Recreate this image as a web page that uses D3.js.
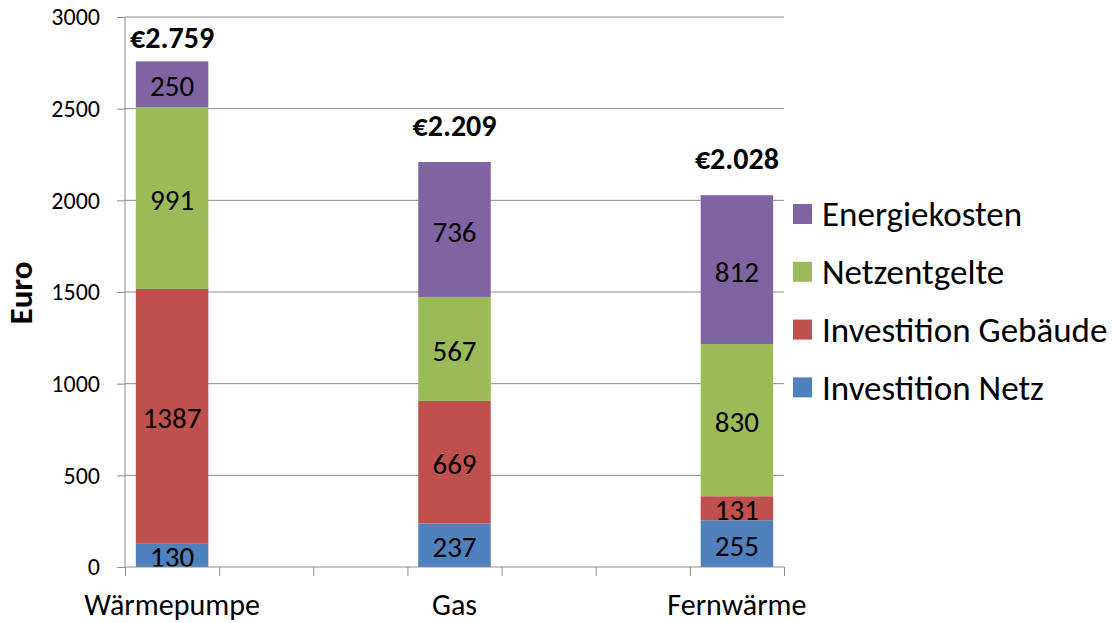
<!DOCTYPE html>
<html>
<head>
<meta charset="utf-8">
<script src="https://cdn.jsdelivr.net/npm/d3@7"></script>
<style>
  body { margin: 0; background: #fff; overflow: hidden; }
  svg { display: block; }
  svg text { font-family: Carlito, Calibri, "Noto Sans", sans-serif; fill: #000; }
</style>
</head>
<body>
<div id="chart"></div>
<script>
// slots on the category axis, blanks are empty slots like in the original
const categories = ["Wärmepumpe", "", "", "Gas", "", "", "Fernwärme"];
const seriesNames = ["Investition Netz", "Investition Gebäude", "Netzentgelte", "Energiekosten"];
const investitionNetz = [130, 237, 255];
const investitionGebaeude = [1387, 669, 131];
const netzentgelte = [991, 567, 830];
const energiekosten = [250, 736, 812];
const totals = [2759, 2209, 2028];
const yTicks = [0, 500, 1000, 1500, 2000, 2500, 3000];
const colors = ["#4F81BD", "#C0504D", "#9BBB59", "#8064A2"];

const w = 1116;
const h = 623;
const plotLeft = 125, plotRight = 784, plotTop = 17, plotBottom = 567;

const svg = d3.select('#chart')
              .append('svg')
              .attr('width', w)
              .attr('height', h);

const filled = categories.map((c, i) => i).filter(i => categories[i] !== "");
const rows = filled.map((slot, k) => ({
  slot: slot,
  "Investition Netz": investitionNetz[k],
  "Investition Gebäude": investitionGebaeude[k],
  "Netzentgelte": netzentgelte[k],
  "Energiekosten": energiekosten[k],
  total: totals[k]
}));

const yScale = d3.scaleLinear().domain([0, 3000]).range([plotBottom, plotTop]);
const xBand = d3.scaleBand().domain(d3.range(categories.length)).range([plotLeft, plotRight]);
const xLin = d3.scaleLinear().domain([0, categories.length]).range([plotLeft, plotRight]);
const barW = xBand.bandwidth() * 0.77;

// gridlines
svg.append('g')
   .selectAll('line')
   .data(yTicks.filter(t => t > 0))
   .enter()
   .append('line')
   .attr('x1', plotLeft).attr('x2', plotRight)
   .attr('y1', d => yScale(d)).attr('y2', d => yScale(d))
   .attr('stroke', '#8c8c8c').attr('stroke-width', 1);

const stack = d3.stack().keys(seriesNames)(rows);

const layers = svg.append('g')
   .selectAll('g')
   .data(stack)
   .enter()
   .append('g')
   .attr('fill', (d, i) => colors[i]);

layers.selectAll('rect')
   .data(d => d)
   .enter()
   .append('rect')
   .attr('x', d => xBand(d.data.slot) + (xBand.bandwidth() - barW) / 2)
   .attr('width', barW)
   .attr('y', d => yScale(d[1]))
   .attr('height', d => yScale(d[0]) - yScale(d[1]));

layers.selectAll('text')
   .data(d => d.map(p => ({p: p, v: p[1] - p[0]})))
   .enter()
   .append('text')
   .attr('x', d => xBand(d.p.data.slot) + xBand.bandwidth() / 2)
   .attr('y', d => (yScale(d.p[0]) + yScale(d.p[1])) / 2 + 2)
   .attr('dy', '0.35em')
   .attr('text-anchor', 'middle')
   .style('font-size', '29px')
   .text(d => d.v);

// totals above bars
svg.append('g')
   .selectAll('text')
   .data(rows)
   .enter()
   .append('text')
   .attr('x', d => xBand(d.slot) + xBand.bandwidth() / 2)
   .attr('y', d => Math.max(yScale(d.total) - 26, 48))
   .attr('text-anchor', 'middle')
   .style('font-size', '30px')
   .style('font-weight', 'bold')
   .text(d => '€' + d3.format(',')(d.total).replace(/,/g, '.'));

// axes
const yAxis = d3.axisLeft(yScale).tickValues(yTicks).tickSize(8).tickPadding(17).tickFormat(d3.format('d'));
const gy = svg.append('g')
   .attr('transform', 'translate(' + plotLeft + ',0)')
   .call(yAxis);
gy.select('.domain').attr('stroke', '#8c8c8c').attr('d', 'M0,' + plotTop + 'V' + plotBottom);
gy.selectAll('.tick line').attr('stroke', '#8c8c8c');
gy.selectAll('.tick text').style('font-size', '24px').attr('fill', '#000');

const xAxis = d3.axisBottom(xLin).tickValues(d3.range(categories.length + 1)).tickSize(9).tickFormat('');
const gx = svg.append('g')
   .attr('transform', 'translate(0,' + plotBottom + ')')
   .call(xAxis);
gx.select('.domain').attr('stroke', '#8c8c8c').attr('d', 'M' + plotLeft + ',0H' + plotRight);
gx.selectAll('.tick line').attr('stroke', '#8c8c8c');

svg.append('g')
   .selectAll('text')
   .data(filled)
   .enter()
   .append('text')
   .attr('x', d => xBand(d) + xBand.bandwidth() / 2)
   .attr('y', plotBottom + 48)
   .attr('text-anchor', 'middle')
   .style('font-size', '30px')
   .text(d => categories[d]);

svg.append('text')
   .attr('transform', 'translate(32,293) rotate(-90)')
   .attr('text-anchor', 'middle')
   .style('font-size', '33px')
   .style('font-weight', 'bold')
   .text('Euro');

// legend, top series first
const legend = svg.append('g')
   .selectAll('g')
   .data(seriesNames.slice().reverse())
   .enter()
   .append('g')
   .attr('transform', (d, i) => 'translate(793,' + (214 + i * 57.8) + ')');
legend.append('rect')
   .attr('x', 0).attr('y', -10)
   .attr('width', 19).attr('height', 20)
   .attr('fill', d => colors[seriesNames.indexOf(d)]);
legend.append('text')
   .attr('x', 29)
   .attr('dy', '0.35em')
   .style('font-size', '35px')
   .text(d => d);
</script>
</body>
</html>
